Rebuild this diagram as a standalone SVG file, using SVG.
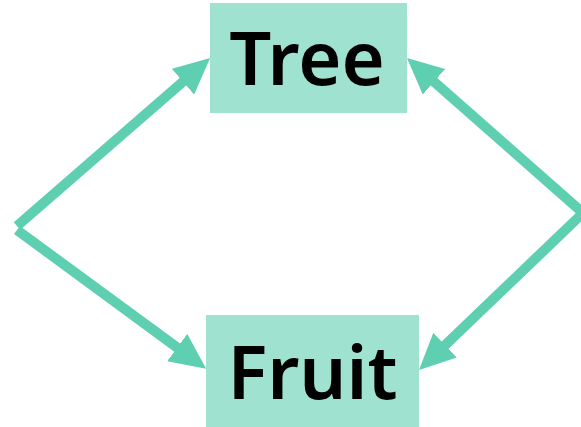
<svg xmlns="http://www.w3.org/2000/svg" width="581" height="427" viewBox="0 0 581 427">
  <style>
    .box { fill: #a0e2d0; }
    .label { font-family: "Noto Sans", "Open Sans", "DejaVu Sans", sans-serif; font-weight: 600; font-size: 74px; fill: #000000; text-anchor: middle; }
    .edge { stroke: #5ecfb1; stroke-width: 10; fill: none; stroke-linecap: butt; }
  </style>
  <defs>
    <marker id="arrow" markerUnits="userSpaceOnUse" markerWidth="36" markerHeight="34" refX="6" refY="17" orient="auto" viewBox="0 0 36 34">
      <path d="M0,0 L36,17 L0,34 z" fill="#5ecfb1"/>
    </marker>
  </defs>
  <g id="connectors">
    <line class="edge" x1="17" y1="226" x2="187.5" y2="77.8" marker-end="url(#arrow)"/>
    <line class="edge" x1="17" y1="230" x2="182" y2="351.1" marker-end="url(#arrow)"/>
    <line class="edge" x1="583" y1="213" x2="429.5" y2="77.8" marker-end="url(#arrow)"/>
    <line class="edge" x1="583" y1="213" x2="440.7" y2="349.3" marker-end="url(#arrow)"/>
  </g>
  <g id="node-tree">
    <rect class="box" x="210" y="3" width="197" height="110"/>
    <text class="label" x="307" y="85">Tree</text>
  </g>
  <g id="node-fruit">
    <rect class="box" x="206" y="315" width="213" height="115"/>
    <text class="label" x="312.5" y="399">Fruit</text>
  </g>
</svg>
